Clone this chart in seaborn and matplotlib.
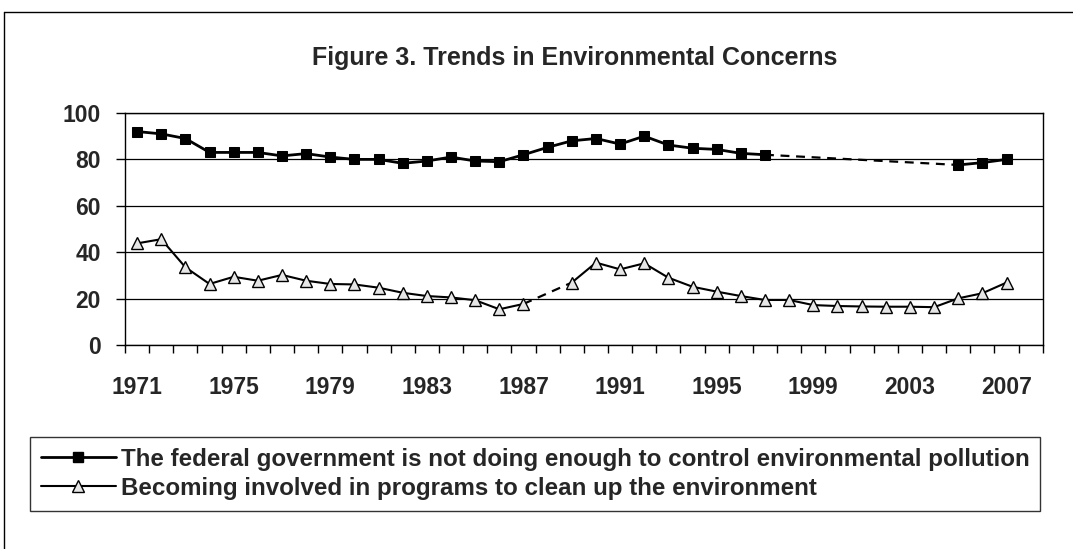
import numpy as np
import pandas as pd
import seaborn as sns
import matplotlib.pyplot as plt
from matplotlib.lines import Line2D

years = list(range(1971, 2008))
nan = np.nan
# federal government not doing enough (no survey 1998-2004)
gov = [92, 91, 89, 83, 83, 83, 81.5, 82.5, 81, 80, 80, 78.3, 79.3, 81, 79.3,
       79, 82, 85.2, 88, 89, 86.6, 90, 86.2, 84.8, 84.3, 82.6, 82,
       nan, nan, nan, nan, nan, nan, nan, 77.6, 78.6, 80]
# becoming involved in programs (no survey 1988)
inv = [43.8, 45.6, 33.5, 26.3, 29.4, 27.7, 30.2, 27.7, 26.3, 26.1, 24.7, 22.5,
       21.1, 20.5, 19.3, 15.4, 17.7, nan, 26.9, 35.5, 32.6, 35.2, 29, 25.1, 23,
       21.1, 19.4, 19.4, 17.2, 16.8, 16.6, 16.5, 16.5, 16.3, 20.1, 22.3, 26.9]

label_gov = "The federal government is not doing enough to control environmental pollution"
label_inv = "Becoming involved in programs to clean up the environment"
title = "Figure 3. Trends in Environmental Concerns"

data = pd.DataFrame({"year": years, "gov": gov, "inv": inv})

sns.set_theme(style="white")
plt.rcParams['font.family'] = ['Liberation Sans', 'DejaVu Sans']
plt.rcParams['font.weight'] = 'bold'

fig = plt.figure(figsize=(10.73, 5.49), dpi=100)
ax = fig.add_axes([0.1165, 0.3716, 0.8553, 0.4226])


def draw(col, style):
    s = data[["year", col]]
    ok = s[col].notna()
    run = (ok != ok.shift()).cumsum()
    parts = [g for _, g in s[ok].groupby(run[ok])]
    # dashed bridge over missing years
    for a, b in zip(parts[:-1], parts[1:]):
        br = pd.concat([a.tail(1), b.head(1)])
        sns.lineplot(data=br, x="year", y=col, ax=ax, color="black",
                     lw=1.6, linestyle=(0, (4, 3)), zorder=2)
    for p in parts:
        sns.lineplot(data=p, x="year", y=col, ax=ax, color="black", zorder=3,
                     **style)


sq = dict(marker="s", markersize=7.5, markerfacecolor="black",
          markeredgecolor="black", lw=2)
tri = dict(marker="^", markersize=8, markerfacecolor="#e6e6e6",
           markeredgecolor="black", markeredgewidth=1, lw=1.5)
draw("gov", sq)
draw("inv", tri)

ax.set_xlim(1970.5, 2008.5)
ax.set_ylim(0, 100)
ax.set_yticks(range(0, 101, 20))
ax.set_xticks(range(1971, 2008, 4))
ax.set_xticks(np.arange(1970.5, 2009, 1), minor=True)
ax.set_xlabel("")
ax.set_ylabel("")
ax.yaxis.grid(True, color="black", lw=0.9)
ax.set_axisbelow(True)
for sp in ax.spines.values():
    sp.set_color("black")
    sp.set_linewidth(1)
ax.tick_params(axis="y", length=6.5, width=1, color="black", direction="out",
               pad=11, labelsize=16.5, left=True)
ax.tick_params(axis="x", which="major", length=0, pad=22, labelsize=16.5)
ax.tick_params(axis="x", which="minor", length=6, width=1, color="black",
               direction="out", bottom=True)

fig.text(575 / 1073, 1 - 58 / 549, title, ha="center", va="center",
         fontsize=18, weight="bold")

handles = [Line2D([], [], color="black", **sq), Line2D([], [], color="black", **tri)]
leg = fig.legend(handles, [label_gov, label_inv], loc="upper left",
                 bbox_to_anchor=(30 / 1073, 1 - 437 / 549), frameon=True,
                 fancybox=False, edgecolor="black", fontsize=17.4,
                 handlelength=3.1, handletextpad=0.2, borderpad=0.45,
                 labelspacing=0.25, borderaxespad=0)
leg.get_frame().set_linewidth(1)

# outer chart frame
fig.add_artist(Line2D([4 / 1073, 4 / 1073], [0, 1 - 12 / 549],
                      transform=fig.transFigure, color="black", lw=1))
fig.add_artist(Line2D([4 / 1073, 1], [1 - 12 / 549, 1 - 12 / 549],
                      transform=fig.transFigure, color="black", lw=1))

fig.savefig("out.png", dpi=100)
